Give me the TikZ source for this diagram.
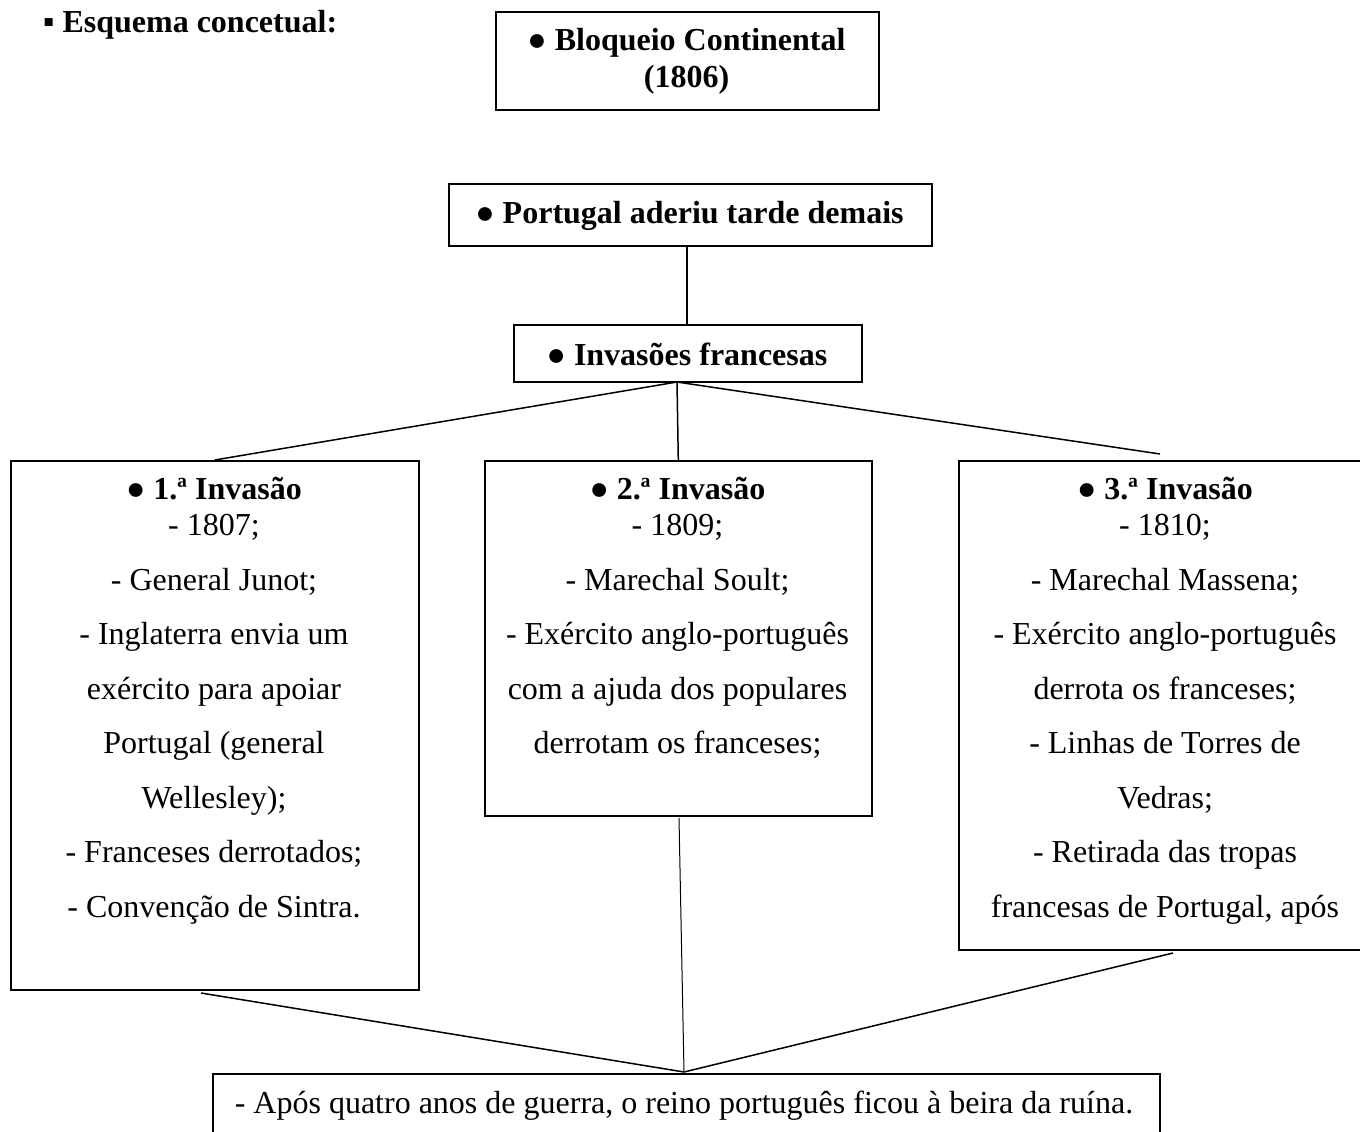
\documentclass[tikz,border=0pt]{standalone}
\usepackage{fontspec}
\setmainfont{Liberation Serif}
\begin{document}
\begin{tikzpicture}[x=1pt,y=-1pt,
  box/.style={draw,line width=1.6pt,rectangle,anchor=north west,inner sep=0pt},
  txt/.style={inner sep=0pt,anchor=base,align=center,font=\fontsize{32}{36.8}\selectfont},
  link/.style={line width=1.5pt},
  thinlink/.style={line width=1pt}]
\useasboundingbox (0,0) rectangle (1360,1132);
\clip (0,0) rectangle (1360,1132);
% title
\node[txt,anchor=base west] (title) at (43,33) {\textbf{▪ Esquema concetual:}};
% boxes
\node[box,minimum width=383pt,minimum height=98pt] (bloq) at (495,11) {};
\node[box,minimum width=483pt,minimum height=62pt] (port) at (448,183) {};
\node[box,minimum width=348pt,minimum height=57pt] (inv) at (513,324) {};
\node[box,minimum width=408pt,minimum height=529pt] (b1) at (10,460) {};
\node[box,minimum width=387pt,minimum height=355pt] (b2) at (484,460) {};
\node[box,minimum width=414pt,minimum height=489pt] (b3) at (958,460) {};
\node[box,minimum width=947pt,minimum height=80pt] (fin) at (212,1073) {};
% texts (multi-line nodes: base = baseline of the last line)
\node[txt] (tbloq) at (686.5,87.8) {\textbf{● Bloqueio Continental}\\\textbf{(1806)}};
\node[txt] (tport) at (689.5,223) {\textbf{● Portugal aderiu tarde demais}};
\node[txt] (tinv) at (687,365) {\textbf{● Invasões francesas}};
\node[txt] (t1) at (214,917.3) {\textbf{● 1.ª Invasão}\\
  - 1807;\\[17.7pt]
  - General Junot;\\[17.7pt]
  - Inglaterra envia um\\[17.7pt]
  exército para apoiar\\[17.7pt]
  Portugal (general\\[17.7pt]
  Wellesley);\\[17.7pt]
  - Franceses derrotados;\\[17.7pt]
  - Convenção de Sintra.};
\node[txt] (t2) at (677.5,753.8) {\textbf{● 2.ª Invasão}\\
  - 1809;\\[17.7pt]
  - Marechal Soult;\\[17.7pt]
  - Exército anglo-português\\[17.7pt]
  com a ajuda dos populares\\[17.7pt]
  derrotam os franceses;};
\node[txt] (t3) at (1165,917.3) {\textbf{● 3.ª Invasão}\\
  - 1810;\\[17.7pt]
  - Marechal Massena;\\[17.7pt]
  - Exército anglo-português\\[17.7pt]
  derrota os franceses;\\[17.7pt]
  - Linhas de Torres de\\[17.7pt]
  Vedras;\\[17.7pt]
  - Retirada das tropas\\[17.7pt]
  francesas de Portugal, após};
\node[txt] (tfin) at (684,1113) {- Após quatro anos de guerra, o reino português ficou à beira da ruína.};
% connector points
\coordinate (invfork) at (677,382);
\coordinate (b3top) at (1160,454);
\coordinate (b1low) at (201,993);
\coordinate (b2low) at (679,818);
\coordinate (b3low) at (1173,953);
\coordinate (meet) at (684,1072);
% connectors
\draw[link] (port.south -| 687,0) -- (inv.north -| 687,0);
\draw[link] (invfork) -- (b1.north);
\draw[link] (invfork) -- (b2.north);
\draw[link] (invfork) -- (b3top);
\draw[link] (b1low) -- (meet);
\draw[thinlink] (b2low) -- (meet);
\draw[link] (b3low) -- (meet);
\end{tikzpicture}
\end{document}
